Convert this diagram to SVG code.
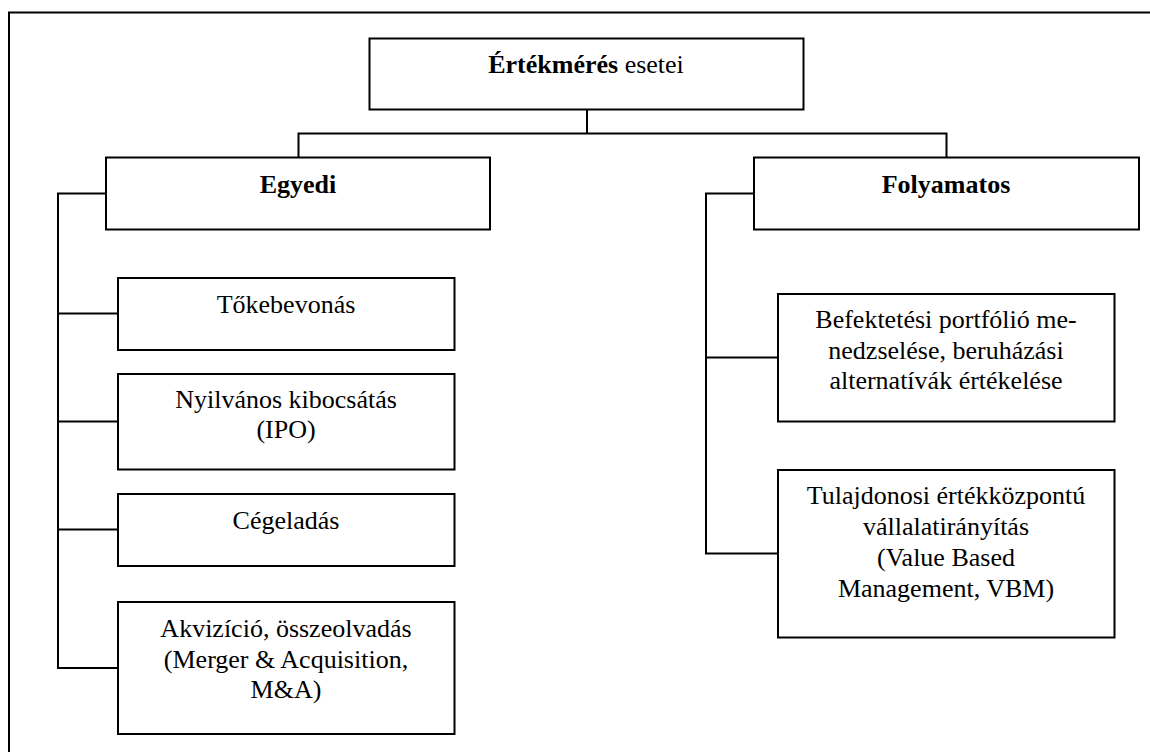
<svg xmlns="http://www.w3.org/2000/svg" width="1150" height="752" viewBox="0 0 1150 752">
  <style>
    .box { fill: #ffffff; stroke: #000000; stroke-width: 2; }
    .wire { fill: none; stroke: #000000; stroke-width: 2; }
    text { font-family: "Liberation Serif", "Times New Roman", serif; font-size: 26px; fill: #000000; text-anchor: middle; }
    .b { font-weight: bold; }
  </style>

  <rect x="0" y="0" width="1150" height="752" fill="#ffffff"/>
  <!-- outer frame (right and bottom sides run past the canvas) -->
  <rect x="9" y="12.5" width="1160" height="760" fill="none" stroke="#000000" stroke-width="2"/>

  <g id="connectors">
    <path class="wire" d="M587 109.5 V133.5 M298.5 157 V133.5 H946.5 V157"/>
    <path class="wire" d="M106 193.5 H58 V668 H118 M58 313.5 H118 M58 421.5 H118 M58 529.5 H118"/>
    <path class="wire" d="M754 193.5 H706 V553.5 H778 M706 357.5 H778"/>
  </g>

  <g id="root">
    <rect class="box" x="369.5" y="38.5" width="434" height="71"/>
    <text x="586" y="73"><tspan class="b">Értékmérés</tspan> esetei</text>
  </g>

  <g id="egyedi">
    <rect class="box" x="106" y="157.5" width="384" height="72"/>
    <text class="b" x="298" y="193">Egyedi</text>
  </g>

  <g id="folyamatos">
    <rect class="box" x="754" y="157.5" width="385" height="72"/>
    <text class="b" x="946" y="193">Folyamatos</text>
  </g>

  <g id="tokebevonas">
    <rect class="box" x="118" y="278" width="336.5" height="72"/>
    <text x="286" y="313">Tőkebevonás</text>
  </g>

  <g id="ipo">
    <rect class="box" x="118" y="374" width="336.5" height="95.5"/>
    <text x="286" y="408">Nyilvános kibocsátás</text>
    <text x="286" y="438">(IPO)</text>
  </g>

  <g id="cegeladas">
    <rect class="box" x="118" y="494" width="336.5" height="72"/>
    <text x="286" y="529">Cégeladás</text>
  </g>

  <g id="akvizicio">
    <rect class="box" x="118" y="602" width="336.5" height="132"/>
    <text x="286" y="637">Akvizíció, összeolvadás</text>
    <text x="286" y="668">(Merger &amp; Acquisition,</text>
    <text x="286" y="698">M&amp;A)</text>
  </g>

  <g id="befektetesi">
    <rect class="box" x="778" y="294" width="336.5" height="127.5"/>
    <text x="946" y="328">Befektetési portfólió me-</text>
    <text x="946" y="359">nedzselése, beruházási</text>
    <text x="946" y="389">alternatívák értékelése</text>
  </g>

  <g id="vbm">
    <rect class="box" x="778" y="470" width="336.5" height="167.5"/>
    <text x="946" y="504">Tulajdonosi értékközpontú</text>
    <text x="946" y="535">vállalatirányítás</text>
    <text x="946" y="566">(Value Based</text>
    <text x="946" y="597">Management, VBM)</text>
  </g>
</svg>
